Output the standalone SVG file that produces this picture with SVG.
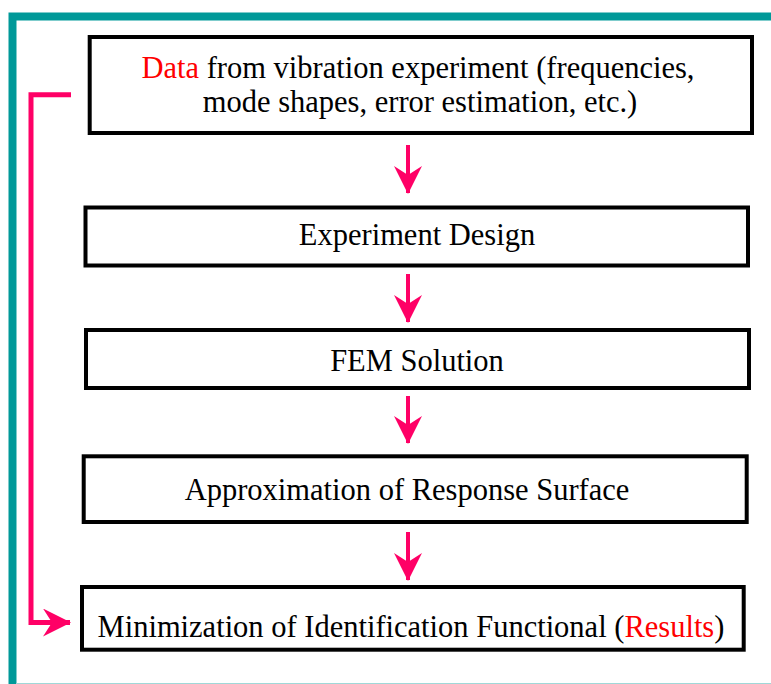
<svg xmlns="http://www.w3.org/2000/svg" width="771" height="684" viewBox="0 0 771 684">
<defs>
<style>
.box{fill:#fff;stroke:#000;stroke-width:4}
.t{font-family:"Liberation Serif","Times New Roman",serif;font-size:30.5px;fill:#000;text-anchor:middle}
.r{fill:#ff0000}
.pk{fill:none;stroke:#ff0066;stroke-width:5}
.ah{fill:#ff0066}
</style>
<marker id="arr" viewBox="0 0 28 28" refX="27" refY="14" markerWidth="28" markerHeight="28" markerUnits="userSpaceOnUse" orient="auto">
<path d="M28,14 L0,0 L9,14 L0,28 Z" class="ah"/>
</marker>
</defs>
<rect width="771" height="684" fill="#fff"/>
<g id="frame">
<path d="M12.5,684 V16.5 H771" fill="none" stroke="#009999" stroke-width="8"/>
<line x1="16" y1="683.5" x2="771" y2="683.5" stroke="#a0d8d8" stroke-width="1"/>
</g>
<g id="n1">
<rect class="box" x="89.7" y="37" width="662.3" height="96"/>
<text class="t" x="418" y="78"><tspan class="r">Data</tspan> from vibration experiment (frequencies,</text>
<text class="t" x="420" y="112">mode shapes, error estimation, etc.)</text>
</g>
<g id="n2">
<rect class="box" x="85.5" y="207.5" width="662.5" height="58"/>
<text class="t" x="417" y="245">Experiment Design</text>
</g>
<g id="n3">
<rect class="box" x="86" y="330" width="663" height="58"/>
<text class="t" x="417" y="371">FEM Solution</text>
</g>
<g id="n4">
<rect class="box" x="83.7" y="456.3" width="663" height="65.7"/>
<text class="t" x="407" y="500">Approximation of Response Surface</text>
</g>
<g id="n5">
<rect class="box" x="82" y="587" width="661.7" height="62.7"/>
<text class="t" x="411" y="637">Minimization of Identification Functional (<tspan class="r">Results</tspan>)</text>
</g>
<g id="connectors">
<line x1="408" y1="145" x2="408" y2="193" stroke="#ff0066" stroke-width="4" marker-end="url(#arr)"/>
<line x1="408" y1="274" x2="408" y2="322" stroke="#ff0066" stroke-width="4" marker-end="url(#arr)"/>
<line x1="408" y1="396" x2="408" y2="443" stroke="#ff0066" stroke-width="4" marker-end="url(#arr)"/>
<line x1="408" y1="532" x2="408" y2="580" stroke="#ff0066" stroke-width="4" marker-end="url(#arr)"/>
<path class="pk" d="M71,94.7 H31 V622.5 H70" marker-end="url(#arr)"/>
</g>
</svg>
